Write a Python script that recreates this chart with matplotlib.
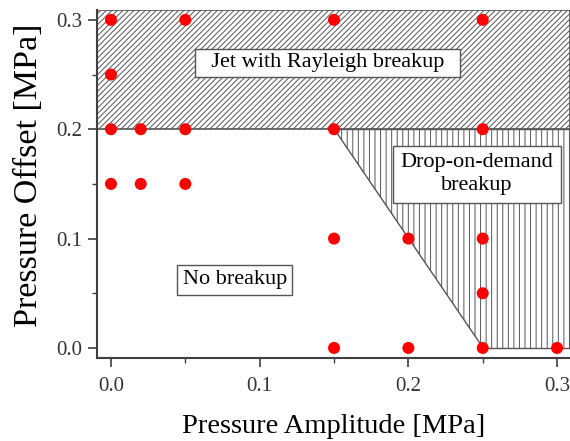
import numpy as np
import matplotlib.pyplot as plt
from matplotlib.patches import Polygon

plt.rcParams['font.family'] = 'Liberation Serif'
plt.rcParams['hatch.color'] = '#5a5a5a'
plt.rcParams['hatch.linewidth'] = 0.7

# measured points (amplitude, offset) in MPa
amplitude = [0.0, 0.05, 0.15, 0.25,
             0.0,
             0.0, 0.02, 0.05, 0.15, 0.25,
             0.0, 0.02, 0.05,
             0.15, 0.2, 0.25,
             0.25,
             0.15, 0.2, 0.25, 0.3]
offset = [0.3, 0.3, 0.3, 0.3,
          0.25,
          0.2, 0.2, 0.2, 0.2, 0.2,
          0.15, 0.15, 0.15,
          0.1, 0.1, 0.1,
          0.05,
          0.0, 0.0, 0.0, 0.0]

x_min, x_max = -0.0094, 0.3087
y_min, y_max = -0.0092, 0.309

fig = plt.figure(figsize=(5.7, 4.41), dpi=100)
ax = fig.add_axes([0.1702, 0.1882, 0.8298, 0.7891])

# regions
jet = Polygon([(x_min, 0.2), (x_max, 0.2), (x_max, y_max), (x_min, y_max)],
              closed=True, facecolor='white', edgecolor='#555555',
              hatch='//////', lw=1.2, zorder=1)
ax.add_patch(jet)
dod = Polygon([(0.15, 0.2), (x_max, 0.2), (x_max, 0.0), (0.25, 0.0)],
              closed=True, facecolor='white', edgecolor='#555555',
              hatch='|||', lw=1.0, zorder=1)
ax.add_patch(dod)

ax.scatter(amplitude, offset, s=75, color='#ff0000', edgecolors='none', zorder=3)

box = dict(boxstyle='square,pad=0.2', facecolor='white', edgecolor='#555555', lw=1.0)
ax.text(0.1456, 0.2607, '  Jet with Rayleigh breakup  ', fontsize=16, ha='center', va='center',
        bbox=box, zorder=4)
ax.text(0.2463, 0.159, 'Drop-on-demand\nbreakup', fontsize=16, ha='center', va='center',
        bbox=dict(boxstyle='square,pad=0.35', facecolor='white', edgecolor='#555555', lw=1.0),
        linespacing=1.25, zorder=4)
ax.text(0.0832, 0.0622, 'No breakup', fontsize=16, ha='center', va='center',
        bbox=dict(boxstyle='square,pad=0.25', facecolor='white', edgecolor='#555555', lw=1.0),
        zorder=4)

ax.set_xlim(x_min, x_max)
ax.set_ylim(y_min, y_max)
ax.set_xticks([0.0, 0.1, 0.2, 0.3])
ax.set_yticks([0.0, 0.1, 0.2, 0.3])
ax.set_xticks([0.05, 0.15, 0.25], minor=True)
ax.set_yticks([0.05, 0.15, 0.25], minor=True)
ax.set_xticklabels(['0.0', '0.1', '0.2', '0.3'])
ax.set_yticklabels(['0.0', '0.1', '0.2', '0.3'])
ax.tick_params(which='major', direction='out', length=6.5, width=1.2, color='#404040',
               labelsize=15, labelcolor='#333333')
ax.tick_params(axis='y', which='major', pad=4)
ax.tick_params(axis='x', which='major', pad=7)
ax.tick_params(which='minor', direction='out', length=3.5, width=1.0, color='#404040')

for side in ['top', 'right']:
    ax.spines[side].set_visible(False)
for side in ['left', 'bottom']:
    ax.spines[side].set_color('#404040')
    ax.spines[side].set_linewidth(1.5)

ax.set_xlabel('Pressure Amplitude [MPa]', fontsize=20.5)
ax.set_ylabel('Pressure Offset [MPa]', fontsize=24.5)
ax.xaxis.set_label_coords(0.5, -0.162)
ax.yaxis.set_label_coords(-0.112, 0.526)

fig.savefig('out.png', dpi=100)
